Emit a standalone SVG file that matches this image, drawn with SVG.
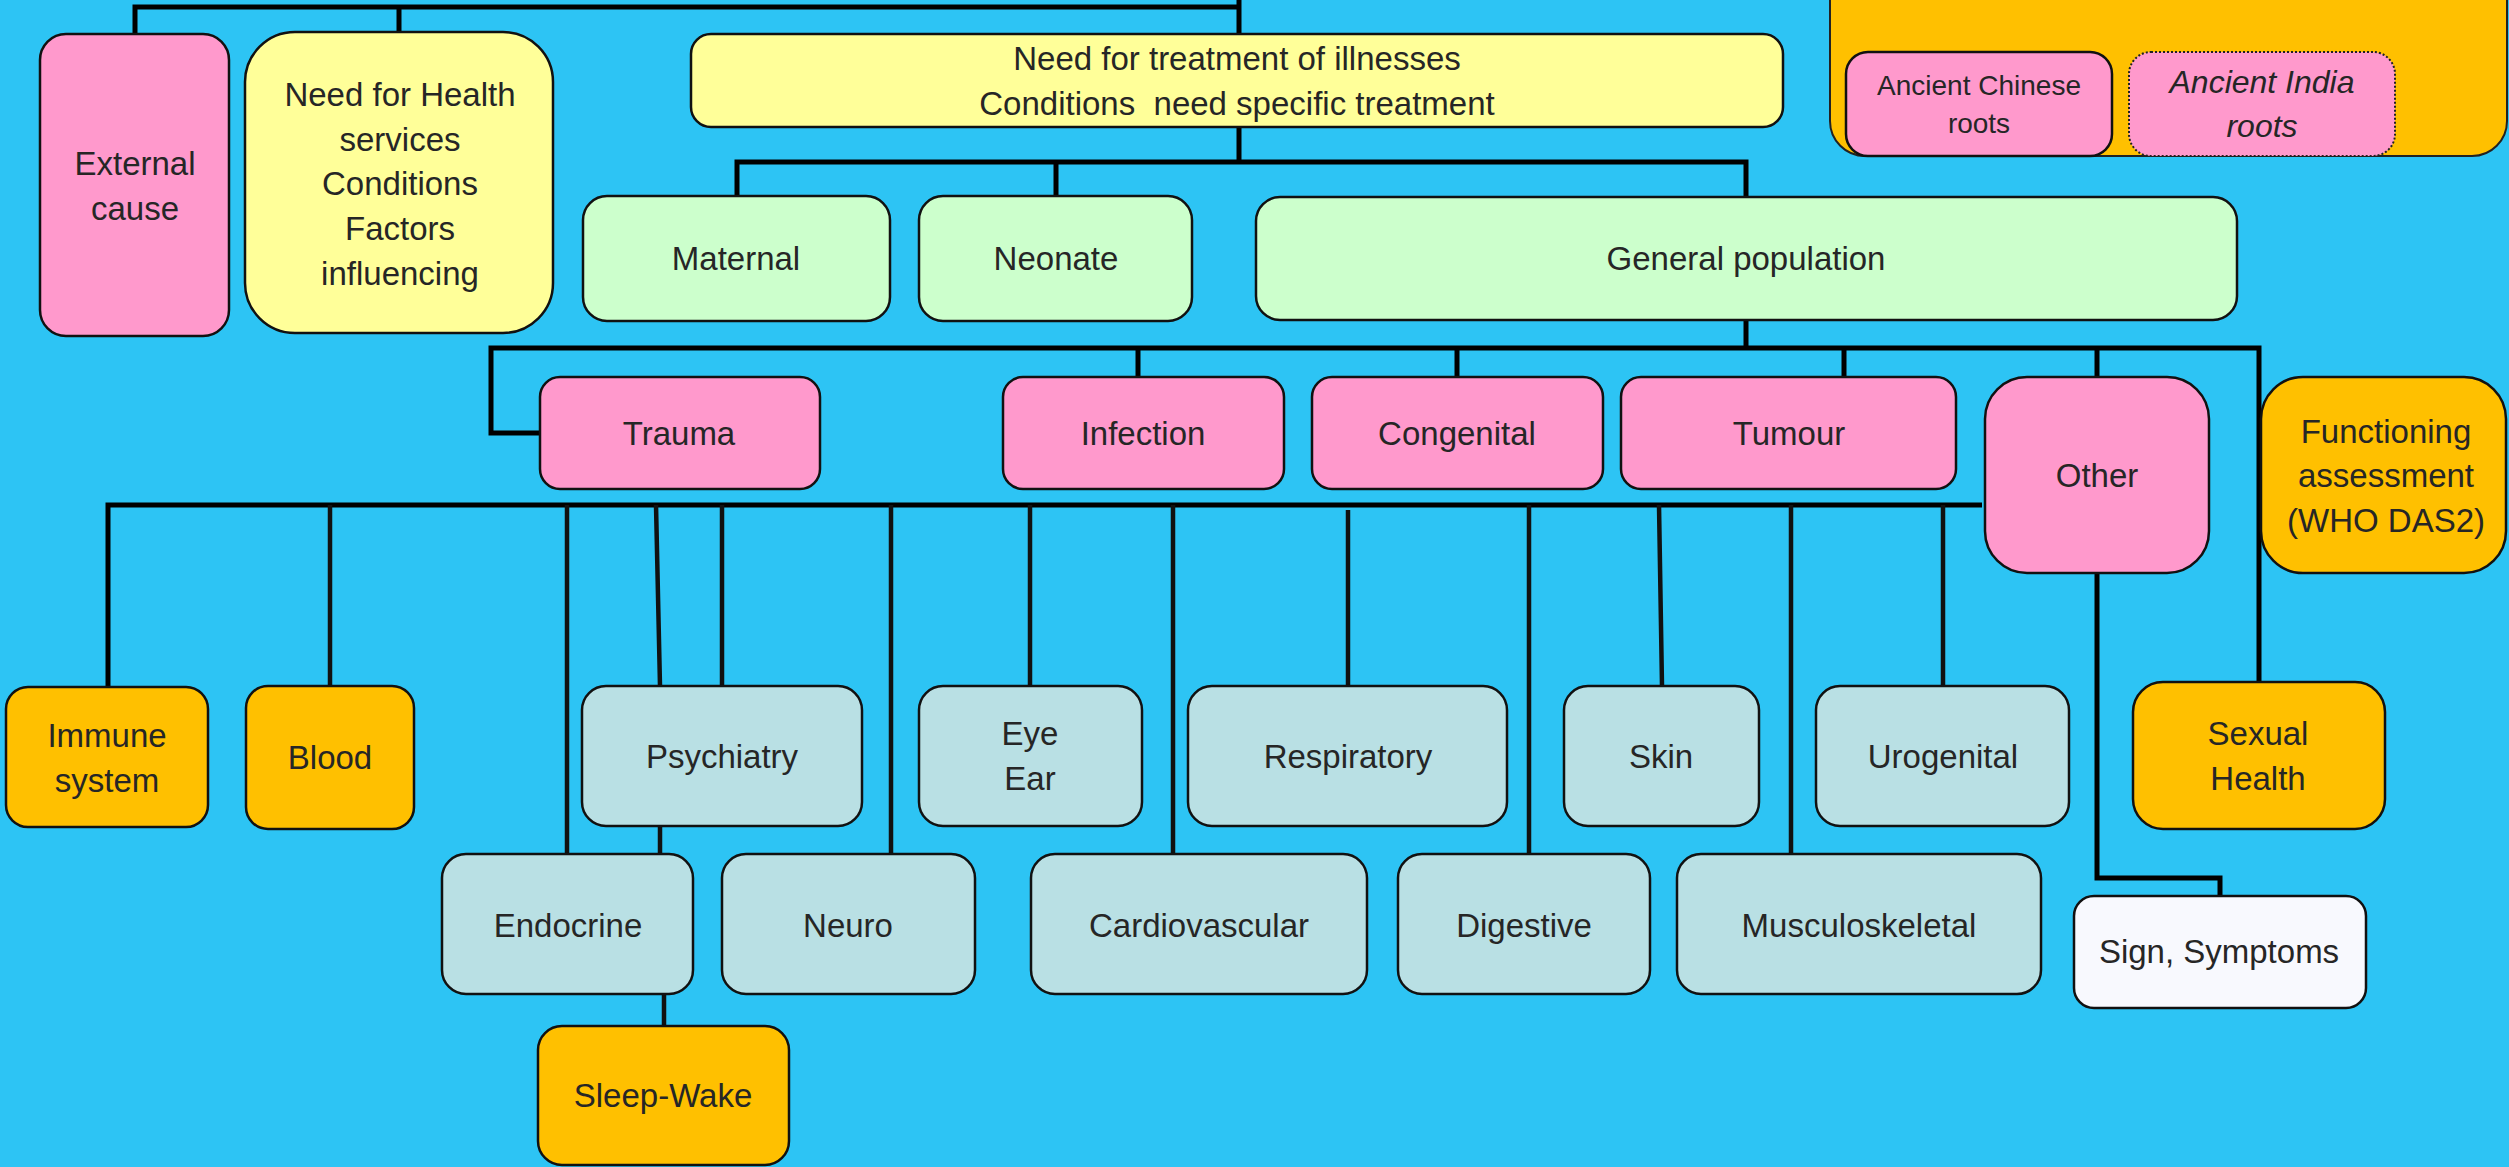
<svg xmlns="http://www.w3.org/2000/svg" width="2509" height="1167" viewBox="0 0 2509 1167">
<style>
.bx{stroke:#111;stroke-width:2.5}
.pink{fill:#FF99CC}.yel{fill:#FFFF99}.grn{fill:#CCFFCC}.blu{fill:#B9E0E4}.org{fill:#FFC000}.wht{fill:#F8F9FE}
text{font-family:"Liberation Sans",Arial,sans-serif;font-size:33px;fill:#262626;text-anchor:middle}
.sm{font-size:28px}
.it{font-size:32px;font-style:italic}
.cn{fill:none;stroke:#000;stroke-width:5}
.cn2{fill:none;stroke:#111;stroke-width:4.5}
</style>
<rect x="0" y="0" width="2509" height="1167" fill="#2DC4F4"/>
<g id="connectors">
<path class="cn" d="M135,34 V7 H1239 M1239,0 V34 M399,7 V32"/>
<path class="cn" d="M1239,127 V162 M737,196 V162 H1746 V197 M1056,162 V196"/>
<path class="cn" d="M1746,320 V348 M540,433 H491 V348 H2259 V682 M1138,348 V377 M1457,348 V377 M1844,348 V377 M2097,348 V377"/>
<path class="cn" d="M108,688 V505 H1982"/>
<path class="cn2" d="M330,505 V686 M567,505 V854 M656,505 L660,686 M722,505 V686 M891,505 V854 M1030,505 V686 M1173,505 V854 M1348,510 V686 M1529,505 V854 M1659,505 L1662,686 M1791,505 V854 M1943,505 V686"/>
<path class="cn2" d="M660,826 V854 M664,994 V1026"/>
<path class="cn" d="M2097,573 V878 H2220 V896"/>
</g>
<g id="roots-panel">
<rect x="1830" y="-60" width="677" height="216" rx="35" fill="#FFC000" stroke="#222" stroke-width="2"/>
</g>
<g id="ancient-chinese">
<rect class="bx pink" x="1846" y="52" width="266" height="104" rx="22"/>
<text class="sm" x="1979" y="95">Ancient Chinese</text>
<text class="sm" x="1979" y="133">roots</text>
</g>
<g id="ancient-india">
<rect class="pink" x="2129" y="52" width="266" height="104" rx="22" stroke="#222" stroke-width="2" stroke-dasharray="2 2"/>
<text class="it" x="2262" y="93">Ancient India</text>
<text class="it" x="2262" y="137">roots</text>
</g>
<g id="external-cause">
<rect class="bx pink" x="40" y="34" width="189" height="302" rx="26"/>
<text x="135" y="175">External</text>
<text x="135" y="220">cause</text>
</g>
<g id="need-health-services">
<rect class="bx yel" x="245" y="32" width="308" height="301" rx="50"/>
<text x="400" y="106">Need for Health</text>
<text x="400" y="151">services</text>
<text x="400" y="195">Conditions</text>
<text x="400" y="240">Factors</text>
<text x="400" y="285">influencing</text>
</g>
<g id="need-treatment">
<rect class="bx yel" x="691" y="34" width="1092" height="93" rx="20"/>
<text x="1237" y="70">Need for treatment of illnesses</text>
<text x="1237" y="115" xml:space="preserve">Conditions  need specific treatment</text>
</g>
<g id="maternal">
<rect class="bx grn" x="583" y="196" width="307" height="125" rx="24"/>
<text x="736" y="270">Maternal</text>
</g>
<g id="neonate">
<rect class="bx grn" x="919" y="196" width="273" height="125" rx="24"/>
<text x="1056" y="270">Neonate</text>
</g>
<g id="general-population">
<rect class="bx grn" x="1256" y="197" width="981" height="123" rx="24"/>
<text x="1746" y="270">General population</text>
</g>
<g id="trauma">
<rect class="bx pink" x="540" y="377" width="280" height="112" rx="20"/>
<text x="679" y="445">Trauma</text>
</g>
<g id="infection">
<rect class="bx pink" x="1003" y="377" width="281" height="112" rx="20"/>
<text x="1143" y="445">Infection</text>
</g>
<g id="congenital">
<rect class="bx pink" x="1312" y="377" width="291" height="112" rx="20"/>
<text x="1457" y="445">Congenital</text>
</g>
<g id="tumour">
<rect class="bx pink" x="1621" y="377" width="335" height="112" rx="20"/>
<text x="1789" y="445">Tumour</text>
</g>
<g id="other">
<rect class="bx pink" x="1985" y="377" width="224" height="196" rx="42"/>
<text x="2097" y="487">Other</text>
</g>
<g id="functioning">
<rect class="bx org" x="2261" y="377" width="245" height="196" rx="42"/>
<text x="2386" y="443">Functioning</text>
<text x="2386" y="487">assessment</text>
<text x="2386" y="532">(WHO DAS2)</text>
</g>
<g id="immune">
<rect class="bx org" x="6" y="687" width="202" height="140" rx="22"/>
<text x="107" y="747">Immune</text>
<text x="107" y="792">system</text>
</g>
<g id="blood">
<rect class="bx org" x="246" y="686" width="168" height="143" rx="22"/>
<text x="330" y="769">Blood</text>
</g>
<g id="psychiatry">
<rect class="bx blu" x="582" y="686" width="280" height="140" rx="24"/>
<text x="722" y="768">Psychiatry</text>
</g>
<g id="eye-ear">
<rect class="bx blu" x="919" y="686" width="223" height="140" rx="24"/>
<text x="1030" y="745">Eye</text>
<text x="1030" y="790">Ear</text>
</g>
<g id="respiratory">
<rect class="bx blu" x="1188" y="686" width="319" height="140" rx="24"/>
<text x="1348" y="768">Respiratory</text>
</g>
<g id="skin">
<rect class="bx blu" x="1564" y="686" width="195" height="140" rx="24"/>
<text x="1661" y="768">Skin</text>
</g>
<g id="urogenital">
<rect class="bx blu" x="1816" y="686" width="253" height="140" rx="24"/>
<text x="1943" y="768">Urogenital</text>
</g>
<g id="sexual-health">
<rect class="bx org" x="2133" y="682" width="252" height="147" rx="30"/>
<text x="2258" y="745">Sexual</text>
<text x="2258" y="790">Health</text>
</g>
<g id="endocrine">
<rect class="bx blu" x="442" y="854" width="251" height="140" rx="24"/>
<text x="568" y="937">Endocrine</text>
</g>
<g id="neuro">
<rect class="bx blu" x="722" y="854" width="253" height="140" rx="24"/>
<text x="848" y="937">Neuro</text>
</g>
<g id="cardiovascular">
<rect class="bx blu" x="1031" y="854" width="336" height="140" rx="24"/>
<text x="1199" y="937">Cardiovascular</text>
</g>
<g id="digestive">
<rect class="bx blu" x="1398" y="854" width="252" height="140" rx="24"/>
<text x="1524" y="937">Digestive</text>
</g>
<g id="musculoskeletal">
<rect class="bx blu" x="1677" y="854" width="364" height="140" rx="24"/>
<text x="1859" y="937">Musculoskeletal</text>
</g>
<g id="sign-symptoms">
<rect class="bx wht" x="2074" y="896" width="292" height="112" rx="20"/>
<text x="2219" y="963">Sign, Symptoms</text>
</g>
<g id="sleep-wake">
<rect class="bx org" x="538" y="1026" width="251" height="139" rx="24"/>
<text x="663" y="1107">Sleep-Wake</text>
</g>
</svg>
